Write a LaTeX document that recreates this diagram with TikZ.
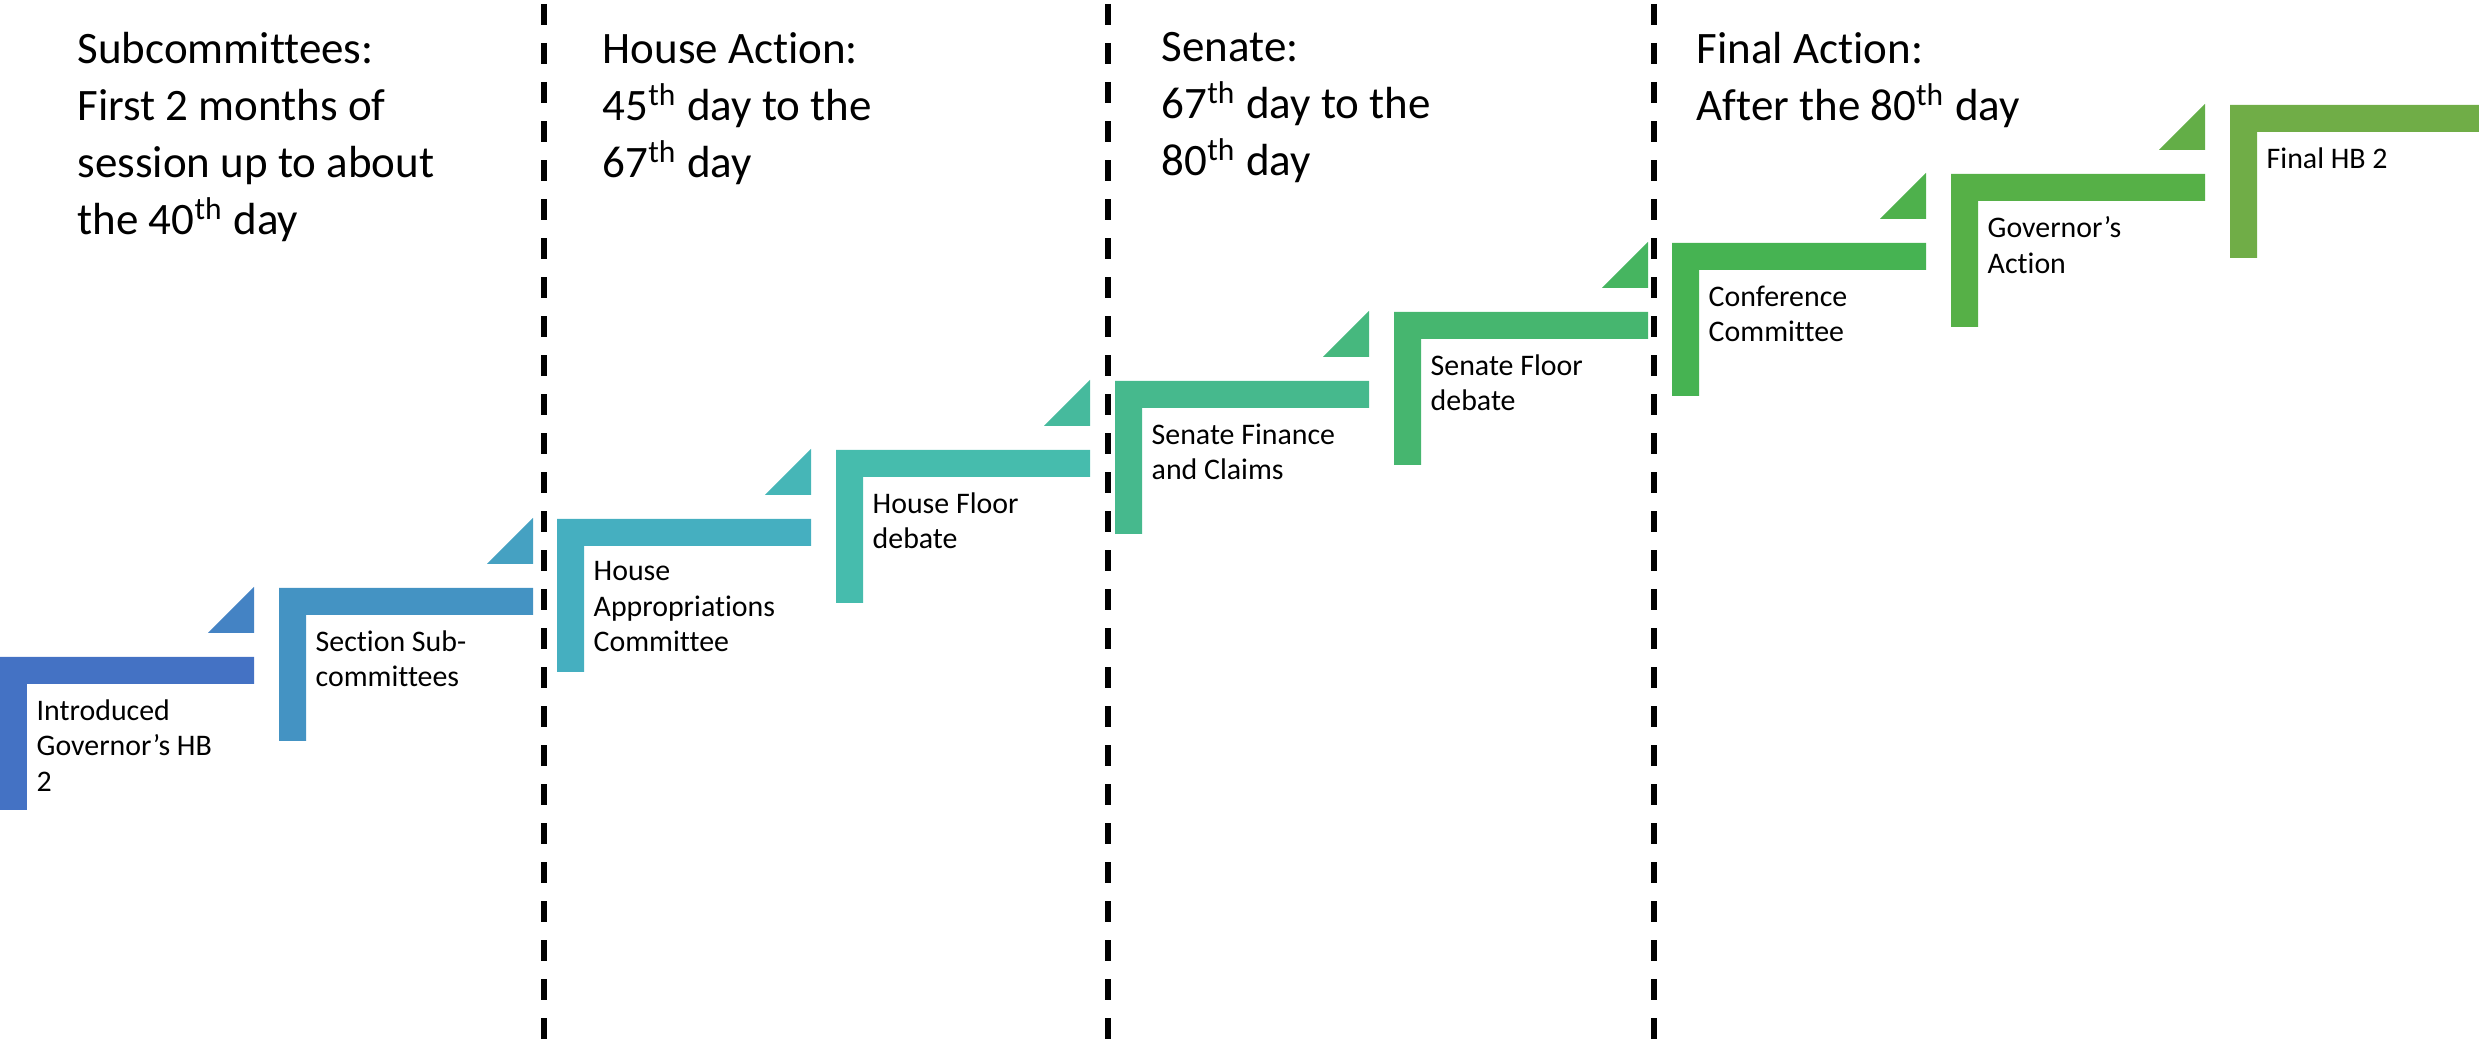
\documentclass[tikz,border=0pt]{standalone}
\usepackage{fontspec}
\setmainfont[Ligatures=NoCommon]{Carlito}
\definecolor{stepa}{HTML}{4472C4}
\definecolor{stepb}{HTML}{4493C3}
\definecolor{stepc}{HTML}{45AFC0}
\definecolor{stepd}{HTML}{46BCAD}
\definecolor{stepe}{HTML}{46B98D}
\definecolor{stepf}{HTML}{46B66F}
\definecolor{stepg}{HTML}{46B352}
\definecolor{steph}{HTML}{56B047}
\definecolor{stepi}{HTML}{70AD47}
\begin{document}
\begin{tikzpicture}[
	steptext/.style={anchor=north west,align=left,inner sep=0pt,font=\fontsize{8.5}{10.1}\selectfont},
	headtext/.style={anchor=north west,align=left,inner sep=0pt,font=\fontsize{12.8}{16.2}\selectfont},
	divider/.style={line width=1.7pt,dash pattern=on 6pt off 5.1pt}]
		\useasboundingbox (0,0) rectangle (24.79,10.46);
		\fill[stepa] (0,3.89) -- ++(2.54,0) -- ++(0,-0.27) -- ++(-2.27,0) -- ++(0,-1.26) -- ++(-0.27,0) -- cycle;
		\fill[stepb] (2.79,4.58) -- ++(2.54,0) -- ++(0,-0.27) -- ++(-2.27,0) -- ++(0,-1.26) -- ++(-0.27,0) -- cycle;
		\fill[stepc] (5.57,5.27) -- ++(2.54,0) -- ++(0,-0.27) -- ++(-2.27,0) -- ++(0,-1.26) -- ++(-0.27,0) -- cycle;
		\fill[stepd] (8.36,5.96) -- ++(2.54,0) -- ++(0,-0.27) -- ++(-2.27,0) -- ++(0,-1.26) -- ++(-0.27,0) -- cycle;
		\fill[stepe] (11.15,6.65) -- ++(2.54,0) -- ++(0,-0.27) -- ++(-2.27,0) -- ++(0,-1.26) -- ++(-0.27,0) -- cycle;
		\fill[stepf] (13.94,7.34) -- ++(2.54,0) -- ++(0,-0.27) -- ++(-2.27,0) -- ++(0,-1.26) -- ++(-0.27,0) -- cycle;
		\fill[stepg] (16.72,8.03) -- ++(2.54,0) -- ++(0,-0.27) -- ++(-2.27,0) -- ++(0,-1.26) -- ++(-0.27,0) -- cycle;
		\fill[steph] (19.51,8.72) -- ++(2.54,0) -- ++(0,-0.27) -- ++(-2.27,0) -- ++(0,-1.26) -- ++(-0.27,0) -- cycle;
		\fill[stepi] (22.30,9.41) -- ++(2.54,0) -- ++(0,-0.27) -- ++(-2.27,0) -- ++(0,-1.26) -- ++(-0.27,0) -- cycle;
		\fill[stepa!50!stepb] (2.08,4.13) -- ++(0.46,0) -- ++(0,0.46) -- cycle;
		\fill[stepb!50!stepc] (4.87,4.82) -- ++(0.46,0) -- ++(0,0.46) -- cycle;
		\fill[stepc!50!stepd] (7.65,5.51) -- ++(0.46,0) -- ++(0,0.46) -- cycle;
		\fill[stepd!50!stepe] (10.44,6.20) -- ++(0.46,0) -- ++(0,0.46) -- cycle;
		\fill[stepe!50!stepf] (13.23,6.89) -- ++(0.46,0) -- ++(0,0.46) -- cycle;
		\fill[stepf!50!stepg] (16.02,7.58) -- ++(0.46,0) -- ++(0,0.46) -- cycle;
		\fill[stepg!50!steph] (18.80,8.27) -- ++(0.46,0) -- ++(0,0.46) -- cycle;
		\fill[steph!50!stepi] (21.59,8.96) -- ++(0.46,0) -- ++(0,0.46) -- cycle;
		\draw[divider] (5.44,10.42) -- (5.44,0);
		\draw[divider] (11.08,10.42) -- (11.08,0);
		\draw[divider] (16.54,10.42) -- (16.54,0);
		\node[steptext] (intro) at (0.36,3.47) {Introduced\\Governor’s HB\\2};
		\node[steptext] (section) at (3.15,4.16) {Section Sub-\\committees};
		\node[steptext] (approp) at (5.93,4.85) {House\\Appropriations\\Committee};
		\node[steptext] (housefloor) at (8.72,5.54) {House Floor\\debate};
		\node[steptext] (finance) at (11.51,6.23) {Senate Finance\\and Claims};
		\node[steptext] (senatefloor) at (14.30,6.92) {Senate Floor\\debate};
		\node[steptext] (conference) at (17.08,7.61) {Conference\\Committee};
		\node[steptext] (governor) at (19.87,8.30) {Governor’s\\Action};
		\node[steptext] (final) at (22.66,8.99) {Final HB 2};
		\node[headtext] (subhead) at (0.77,10.14) {Subcommittees:\\First 2 months of\\session up to about\\the 40\textsuperscript{th} day};
		\node[headtext] (househead) at (6.02,10.14) {House Action:\\45\textsuperscript{th} day to the\\67\textsuperscript{th} day};
		\node[headtext] (senatehead) at (11.61,10.14) {Senate:\\67\textsuperscript{th} day to the\\80\textsuperscript{th} day};
		\node[headtext] (finalhead) at (16.96,10.14) {Final Action:\\After the 80\textsuperscript{th} day};
	\end{tikzpicture}
\end{document}
